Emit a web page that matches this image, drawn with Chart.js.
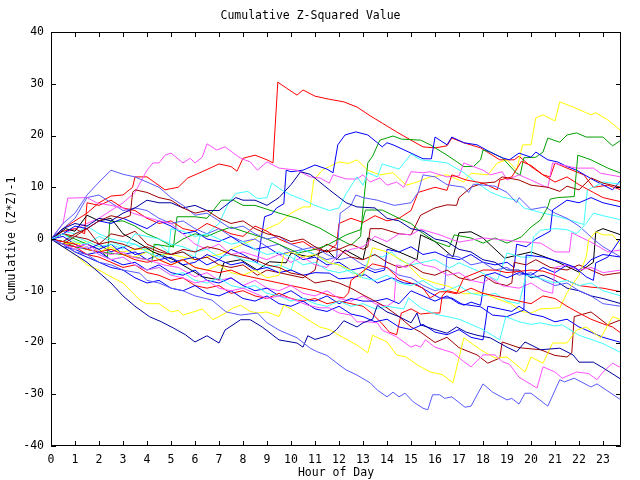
<!DOCTYPE html>
<html>
<head>
<meta charset="utf-8">
<script src="https://cdn.jsdelivr.net/npm/chart.js@4.4.1/dist/chart.umd.min.js"></script>
<style>
  body { margin: 0; background: #fff; }
  canvas { display: block; }
</style>
</head>
<body>
<canvas id="mycanvas" width="640" height="480"></canvas>
<script>
// tick values for the frame marks
var hourTicks = [0,1,2,3,4,5,6,7,8,9,10,11,12,13,14,15,16,17,18,19,20,21,22,23];
var valueTicks = [-40,-30,-20,-10,0,10,20,30,40];

// each series: [hour of day, cumulative (z*z)-1]
var red1 = [[0,0],[0.5,2],[1,3.5],[1.5,5],[2,7],[2.5,8.3],[3,8.5],[3.4,10],[3.5,12],[4,12],[4.75,9.5],[5.3,10],[5.7,11.8],[6.3,13],[7,14.5],[7.5,14],[7.75,13.1],[8,15.6],[8.5,16.2],[9,15.3],[9.25,14.7],[9.45,30.3],[9.8,29.2],[10.25,27.8],[10.5,28.8],[11,27.6],[11.6,27],[12.2,26.5],[12.75,25.5],[13.3,23.8],[13.8,22.4],[14.4,20.7],[15,19.1],[15.5,17.8],[16,17.6],[16.5,18],[16.7,19.5],[17.2,18.6],[17.9,17.6],[18.7,15.3],[19.3,15.3],[19.5,16],[20,14],[20.5,12.4],[20.8,12],[21,14.7],[21.5,13.7],[22.2,12.4],[22.6,10],[23.2,10.4],[23.75,9.5]];
var red2 = [[0,0],[0.5,1.5],[1,2],[1.4,1],[1.5,7],[2,6.5],[2.5,7.5],[3,6],[3.5,5.5],[4,4],[4.5,3],[5,3.5],[5.5,2],[6,1.5],[6.5,3],[7,2],[7.5,1],[8,0.5],[8.5,2.5],[9,1.5],[9.5,0],[10,-1],[10.5,-0.5],[11,-2],[11.5,-2.5],[11.9,-1],[12,3],[12.5,4],[13,3.2],[13.5,4.5],[14,3.5],[14.5,4],[15,5.5],[15.3,9],[16,10],[16.5,9.4],[16.7,12.4],[17.3,11.4],[18,10.8],[18.6,9.5],[18.7,11.4],[19.2,12],[19.6,15],[20,14.2],[20.5,12.4],[21,11],[21.5,12],[22,10.5],[22.6,9],[23,8],[23.75,7.2]];
var red3 = [[0,0],[0.5,-0.5],[1,-1],[1.5,-2],[2,-2.5],[2.5,-2],[3,-3],[3.5,-4],[4,-4.5],[4.5,-4],[5,-5],[5.5,-4],[6,-5.5],[6.5,-6],[7,-6.5],[7.5,-6],[8,-7],[8.5,-7.5],[9,-8],[9.5,-8.5],[10,-9],[10.5,-9.5],[11,-10],[11.7,-11],[12.2,-11.4],[12.4,-10.4],[12.5,-8],[12.9,-6.6],[13.4,-4.8],[14,-5.5],[14.5,-7.7],[15,-8.5],[15.5,-9.5],[15.8,-11.4],[16.2,-10.2],[16.5,-10.2],[16.9,-10.6],[17.2,-7.5],[18,-6],[18.5,-6],[19,-6.5],[20,-6],[20.5,-6.2],[21,-7],[21.5,-8],[22,-9],[22.5,-9.3],[23,-9.5],[23.75,-10.2]];
var red4 = [[0,0],[0.5,-1],[1,-1.5],[1.5,-3],[2,-3.5],[2.5,-4.5],[3,-5.5],[3.5,-5],[4,-6.5],[4.5,-7],[5,-8],[5.5,-7.5],[6,-9],[6.5,-9.5],[7,-9],[7.5,-10.5],[8,-10],[8.5,-11],[9,-11.5],[9.5,-10.5],[10,-11.5],[10.5,-12],[11,-11.5],[11.5,-12.5],[12,-12],[12.5,-12.5],[13,-13],[13.4,-14.5],[13.8,-16.4],[14.1,-18],[14.4,-18.5],[14.6,-14.3],[15,-13.5],[15.4,-14.5],[15.8,-14.3],[16.2,-14.3],[16.3,-11],[16.5,-10],[17,-10.5],[17.5,-9.5],[18,-10.5],[19,-11.5],[20,-12.5],[20.5,-11],[21,-11.5],[21.5,-13],[22,-14.3],[22.5,-15.5],[23,-16.4],[23.4,-17],[23.75,-18.2]];
var darkred1 = [[0,0],[0.5,1],[1,0.5],[1.5,2],[2,-1],[2.5,1],[3,0.5],[3.5,1.5],[4,-1],[4.5,-2],[5,-3],[5.5,-2.5],[6,-4],[6.5,-3.5],[7,-5],[7.5,-5.5],[8,-5],[8.6,-7],[9,-6],[9.5,-6.5],[10,-7],[10.5,-7.5],[11,-6],[11.2,-2],[11.5,-1],[12,-2],[12.5,-1],[13,-2],[13.2,-1.5],[13.3,2],[13.8,2],[14.5,1],[15,0.8],[15.4,4.6],[16,6],[16.5,6.6],[16.9,6.5],[17,8],[17.5,10],[18,10.8],[18.5,11],[18.8,12],[19.5,11.4],[20,10.4],[20.7,10],[21.2,9.2],[21.5,10.2],[22,9.5],[22.5,11.8],[23,10.8],[23.75,10]];
var darkred2 = [[0,0],[0.5,-1],[1,0.5],[1.5,0],[2,-1],[2.5,-0.5],[3,-1],[3.5,-2],[4,-1.5],[4.5,-2.5],[5,-3],[5.5,-2],[6,-2.5],[6.5,-1.5],[7,-2],[7.5,-3],[8,-3.5],[8.5,-4],[9,-5],[9.5,-5.5],[10,-6.6],[10.5,-7],[11,-8.5],[11.6,-8],[12,-8.5],[12.5,-9.5],[13,-10.8],[13.5,-12],[14,-13.3],[14.5,-15],[15,-17],[15.4,-18],[16,-20],[16.5,-19],[17,-21],[17.75,-22.4],[18.2,-24],[18.7,-23],[18.8,-19.9],[19.5,-21],[20.4,-21.4],[21,-22.5],[21.5,-22.8],[21.7,-22],[21.8,-15],[22.5,-14.1],[23.2,-16.6],[23.75,-15.6]];
var darkred3 = [[0,0],[0.5,-0.5],[1,1],[1.5,2],[2,3.5],[2.5,4.5],[3,4],[3.3,4.5],[3.4,9],[3.5,9.5],[4,9],[4.5,8],[5,7.5],[5.5,6],[6,5],[6.5,5.5],[7,4],[7.5,3],[8,3.5],[8.5,2],[9,1],[9.5,0.5],[10,-0.5],[10.5,0],[11,-1.5],[11.5,-2.5],[12,-2],[12.5,-3.5],[13,-4],[13.5,-3],[14,-4.5],[14.5,-5.5],[15,-5],[15.5,-6.5],[16,-7],[16.5,-6],[17,-7.5],[17.5,-8],[18,-7],[18.5,-8.5],[19,-9],[19.2,-8.5],[19.3,-4.5],[19.8,-5],[20.2,-4],[20.8,-5.5],[21.5,-6],[22,-5],[22.5,-6],[23,-7],[23.75,-6.5]];
var green1 = [[0,0],[0.5,1],[1,0],[1.5,-1],[2,-2],[2.35,-3.5],[2.45,3.3],[3,3.5],[3.5,2.5],[4,1],[4.5,0],[5.1,-1.6],[5.25,4.3],[6,4.3],[6.5,4],[7.1,7.5],[7.6,7.5],[8,6.5],[8.5,6.5],[9.5,5],[10.25,4],[11.2,2.1],[11.8,0.5],[12.5,-1.2],[12.9,0.5],[13,6],[13.2,14.7],[13.4,16],[13.7,19.1],[14.25,19.9],[14.6,19.3],[15.4,19.1],[15.8,18.2],[16.5,16.2],[17.2,14],[17.6,14],[17.9,15.3],[18,17.2],[18.3,16.8],[18.8,15.7],[19.4,12.7],[19.55,12.4],[19.7,15.7],[20.2,15.8],[20.5,16.8],[20.7,19.5],[21.2,18.7],[21.5,20.1],[21.9,20.5],[22.3,19.7],[23,19.7],[23.4,18],[23.75,19.1]];
var green2 = [[0,0],[0.5,-0.5],[1,-1.5],[1.5,-2],[2,-2.5],[3,-3],[3.5,-3.5],[4,-4],[4.2,-4.5],[4.3,-1],[5,-1.5],[5.5,0],[6,1],[6.5,0.5],[7,1.5],[7.5,2.3],[8,1.5],[9,0],[10.3,-2.7],[11,-2],[11.5,-1.2],[12.3,0.8],[12.9,1.8],[13.1,5.6],[13.8,5.6],[14.5,4],[15,3],[15.4,1.4],[16,-0.5],[16.6,-1.5],[16.8,0.8],[17.5,0.2],[18,-0.8],[18.5,0.2],[19,-0.8],[19.6,0.4],[20,2.3],[20.4,3.7],[20.7,6.2],[20.8,7.7],[21.1,8],[21.8,8.2],[21.95,16.2],[22.5,15.3],[23.2,13.7],[23.75,12.7]];
var blue1 = [[0,0],[0.5,-1],[1,-1.5],[1.5,-1],[2,-2],[2.5,-1],[3,-3],[3.5,-2.5],[4,-4],[4.5,-3],[5,-4.5],[5.5,-4],[6,-3.5],[6.5,-5],[7,-4],[7.5,-2],[8,-3],[8.6,-4.6],[8.9,4.3],[9.2,4.8],[9.4,6],[9.7,6.8],[9.8,13.3],[10,13],[10.5,13.3],[11,14.3],[11.5,13.5],[11.75,12.8],[11.95,18.2],[12.25,20.1],[12.7,20.7],[13.2,20.1],[13.6,18.6],[13.8,17.8],[14,18.6],[14.25,18.2],[15,16.6],[15.5,15.5],[15.85,15.5],[16,19.7],[16.5,18.2],[16.7,19.7],[17.2,18.6],[17.75,18.2],[18.3,16.8],[18.8,15.7],[19.1,15.3],[19.5,16.6],[20,15.8],[20.2,16.8],[20.7,15.3],[21.1,14.9],[21.5,14],[21.9,13.3],[22.6,11.4],[23.4,9.5],[23.75,11.4]];
var blue2 = [[0,0],[0.5,1],[1,2.5],[1.5,2],[2,3.5],[2.5,3],[3,4],[3.5,3],[4,2],[4.5,3.5],[5,2.5],[5.5,1],[6,1.5],[6.5,0],[7,-0.5],[7.5,0.5],[8,-1],[8.5,-2],[9,-1.5],[9.5,-3],[10,-2.5],[10.5,-4],[11,-3.5],[11.5,-5],[12,-4.5],[12.5,-6],[13,-5.5],[13.5,-6.5],[13.9,-6],[14,-2],[14.5,-2.5],[15,-1.5],[15.5,-3],[16,-2.5],[16.5,-3.5],[17,-4],[17.5,-3],[18,-4.5],[18.5,-5],[19,-4.5],[19.3,-5.5],[19.4,-1],[19.8,-1.5],[20.2,0],[20.8,1.5],[20.9,5.6],[21.5,7.5],[22,7],[22.5,8],[23,7],[23.75,6.2]];
var blue3 = [[0,0],[0.5,-1.5],[1,-2],[1.5,-3],[2,-2.5],[2.5,-4],[3,-5],[3.5,-4.5],[4,-6],[4.5,-5],[5,-6.5],[5.5,-7],[6,-6],[6.5,-8],[7,-8.5],[7.5,-7.5],[8,-9],[8.5,-10],[9,-9.5],[9.5,-11],[10,-10],[10.5,-11.5],[11,-12],[11.5,-11],[12,-12.5],[12.5,-11.5],[13,-12],[13.5,-12],[14,-11.5],[14.5,-12.5],[15,-10],[15.5,-11],[16,-12],[16.5,-11],[17,-12.5],[17.9,-13.1],[18.4,-14.7],[19,-15],[19.7,-13.7],[19.8,-3.1],[20.5,-3.5],[21.2,-4.4],[21.8,-5.4],[22.3,-7.3],[22.6,-8],[22.7,-4.6],[23.2,-3.5],[23.75,0.2]];
var blue4 = [[0,0],[0.5,0.5],[1,-1],[1.5,-2],[2,-1],[2.5,-2.5],[3,-1.5],[3.5,-3],[4,-2.5],[4.5,-4],[5,-3.5],[5.5,-5],[6,-4.5],[6.5,-3],[7,-4],[7.5,-5],[8,-4.5],[8.5,-6],[9,-5.5],[9.5,-6.5],[10,-6],[10.5,-7],[11,-6.5],[11.6,-6.6],[12,-7.7],[12.5,-7.5],[13.1,-6.9],[13.6,-8.5],[14.2,-7.5],[14.7,-8.5],[15.2,-8.7],[15.8,-10.4],[16.2,-11.4],[16.7,-11.4],[17.2,-12.8],[17.5,-12.2],[17.9,-12.8],[18.1,-7],[18.5,-6.5],[19,-7.5],[19.5,-6.5],[20,-7],[20.5,-5.5],[21,-6.5],[21.5,-5],[22,-6],[22.3,-5],[22.5,-4],[23,-3],[23.75,-3.5]];
var blue5 = [[0,0],[0.5,-1],[1,-2.5],[1.5,-3.5],[2,-4.5],[2.5,-5.5],[3,-6],[3.5,-7.5],[4,-8.5],[4.5,-8],[5,-9.5],[5.5,-10],[6,-9],[6.5,-10.5],[7,-11],[7.5,-10],[8,-11.5],[8.5,-12],[9,-11],[9.5,-12.5],[10,-13],[10.5,-12],[11,-13.5],[11.5,-14],[12,-13],[12.5,-14.5],[13,-15],[13.5,-16],[14,-15.5],[14.5,-17],[15,-17.5],[15.5,-16.5],[16,-18],[16.5,-18.5],[17,-17.5],[17.5,-19],[18,-19.5],[18.2,-13],[18.7,-13.5],[19.2,-14],[19.5,-13],[20,-14.5],[20.5,-15],[21,-16],[21.5,-15.5],[22,-17],[22.5,-18],[23,-19],[23.75,-20]];
var navy1 = [[0,0],[0.5,-1.5],[1,-3],[1.5,-4.5],[2,-6.5],[2.5,-8.5],[3,-11],[3.5,-13],[4.1,-15],[4.6,-16],[5.1,-17.2],[5.6,-18.5],[6,-19.9],[6.5,-18.7],[7,-20.1],[7.25,-17.6],[7.9,-15.6],[8.3,-15.6],[8.8,-17],[9.5,-19.5],[10.25,-20.1],[10.5,-20.9],[10.7,-18.7],[11,-19.4],[11.6,-18.6],[11.9,-17.5],[12.2,-15.8],[12.75,-17],[13,-16.2],[13.4,-15.5],[13.6,-12.8],[14,-14.1],[14.5,-15],[15,-16.2],[15.25,-14.3],[15.4,-16.6],[16,-17.5],[16.5,-18.2],[16.9,-17],[17.3,-18],[17.75,-18.6],[18.3,-19.1],[19,-20.9],[19.4,-21.8],[19.75,-19.9],[20.4,-21.4],[21.2,-21.1],[21.75,-22.4],[22,-23.8],[22.6,-23.8],[23,-24.9],[23.75,-27.1]];
var navy2 = [[0,0],[0.5,2],[1,3],[1.5,2.5],[2,4],[2.5,3.5],[3,5],[3.5,6],[4,7.5],[4.5,7],[5,7],[5.5,6],[6,6.5],[6.5,5.5],[7,5.5],[7.7,8],[8,7.5],[8.5,7.5],[9,6.5],[9.5,8],[10,10.5],[10.4,13],[10.8,12.5],[11.6,9.5],[12.3,7],[12.75,6.2],[13.5,6],[14,4],[14.5,3.5],[15,2],[15.5,1.5],[16,0],[16.5,-0.5],[17,-2],[17.5,-2.5],[18,-4],[18.5,-4.5],[19,-6],[19.5,-6],[20,-7.5],[20.5,-7],[21,-8],[21.5,-9.5],[22,-10],[22.5,-11],[23,-11.5],[23.75,-12.5]];
var slate1 = [[0,0],[0.5,3],[1,5],[1.5,8.5],[2,11],[2.5,13.3],[3,12.5],[3.5,12],[4,11],[4.5,10],[5,8],[5.5,6.5],[6,4.6],[6.5,5],[7,3.5],[7.5,2],[8,2.5],[8.5,1],[9,0],[9.5,0.5],[10,-1],[10.5,-2],[11,-1.5],[11.5,-3],[12,-4],[12.5,-3.5],[13,-5],[13.5,-6],[14,-5.5],[14.5,-7],[15,-7.5],[15.5,-9],[16,-10],[16.4,-9.5],[16.5,-3],[17,-3.5],[17.5,-5],[18,-4.5],[18.5,-6],[19,-5.5],[19.5,-7],[20,-6.5],[20.5,-8],[21,-9],[21.5,-8.5],[22,-10],[22.5,-11],[23,-12.5],[23.75,-13]];
var slate2 = [[0,0],[0.5,-1],[1,-2.5],[1.5,-3],[2,-4.5],[2.5,-5],[3,-6],[3.7,-6.6],[4,-8],[4.5,-8.5],[5,-9.5],[5.5,-10],[6,-11],[6.7,-11.8],[7.3,-14.1],[7.9,-14.7],[8.6,-14.3],[9,-16.2],[9.5,-17.6],[10.25,-19.1],[10.8,-21.1],[11.1,-21.8],[11.5,-22.5],[12,-24.3],[12.3,-25.3],[12.75,-26.3],[13.3,-27.8],[13.6,-29.2],[14,-30.5],[14.25,-29.6],[14.5,-30.5],[14.75,-29.8],[15.1,-31.5],[15.5,-32.7],[15.7,-33],[15.9,-30.1],[16.2,-30.1],[16.4,-30.8],[16.7,-30.5],[17.25,-32.5],[17.5,-32.3],[18,-28],[18.4,-29.6],[19,-31.1],[19.2,-30.8],[19.5,-31.9],[19.75,-29.8],[20,-29.8],[20.7,-32.3],[21.2,-27.2],[21.4,-27.6],[21.8,-26.9],[22.5,-28.6],[22.75,-28],[23.75,-31.1]];
var slate3 = [[0,0],[0.5,2],[1,4],[1.5,8],[2,8.5],[2.5,7],[3,5.5],[3.5,6],[4,5.5],[4.5,4],[5,3],[5.5,3.5],[6,2],[6.5,1],[7,2],[7.5,0.5],[8,-0.5],[8.5,0],[9,-1.5],[9.5,-1],[10,-2.5],[10.5,-2],[11,-3],[11.5,-4],[11.9,-3.5],[12.05,5],[12.5,6.5],[12.7,8.5],[13,8],[13.6,7.5],[14.3,6.5],[15,7],[15.3,9],[15.5,12.4],[16,12],[16.5,10.5],[17.2,10],[17.4,9],[17.6,10.6],[18.5,10.2],[19,9],[19.4,7],[19.5,8],[20,5.7],[20.6,6.2],[21,5],[21.5,4],[22,2.5],[22.6,0],[23,-1.5],[23.75,-3.5]];
var cyan1 = [[0,0],[0.5,1.5],[1,1],[1.5,2.5],[2,1],[2.5,0],[3,-0.5],[3.5,-1],[4,-2],[4.5,-1],[5,-3],[5.5,-2.5],[6,-3.5],[6.2,0.5],[6.5,1],[7,3],[7.4,7],[7.7,8.8],[8.2,9.2],[8.6,7.8],[9,8],[9.2,10.8],[9.6,9.5],[10,8.5],[10.5,7.6],[11,6.5],[11.6,5.5],[12,6],[12.3,8.8],[12.75,12],[13,10.4],[13.2,12.8],[13.6,12],[13.8,14.5],[14.5,13.5],[15,16.4],[15.4,15.3],[16,15],[16.5,14.7],[17.2,12.8],[17.75,10.8],[18.3,9.1],[18.8,8.1],[19.4,7.5],[19.7,6],[20.5,5],[21,4.5],[21.6,3.7],[22.2,2.8],[22.35,9.5],[22.6,10],[23,11],[23.75,10.6]];
var cyan2 = [[0,0],[0.5,-0.5],[1,0.5],[1.5,-0.5],[2,-1.5],[2.5,-1],[3,-2],[3.5,1],[4,0.5],[4.5,0],[5,-1],[5.5,-1.5],[6,-2.5],[6.5,-2],[7,-3.5],[7.5,-3],[8,-4],[8.5,-4.5],[9,-5.5],[9.5,-5],[10,-6],[10.2,-3],[10.5,-2],[11,-3],[11.5,-4.5],[12,-5],[12.5,-6.5],[13,-7],[13.3,-3],[13.8,-3.5],[14.2,-2.5],[14.5,-4],[15,-5],[15.4,-4.6],[16,-4],[16.6,-5.6],[17,-4.6],[17.8,-6.2],[18.6,-8],[19,-2.7],[19.6,-3.5],[20,-3.5],[20.1,0.4],[20.4,1.7],[21,2],[21.5,1.8],[21.9,1],[22.3,3],[22.6,5],[23,4.5],[23.75,3.7]];
var cyan3 = [[0,0],[0.5,-1],[1,-2],[1.5,-1.5],[2,-3],[2.5,-4],[3,-3.5],[3.5,-5],[4,-6],[4.5,-5.5],[5,-7],[5.5,-6.5],[6,-8],[6.5,-8.5],[7,-7.5],[7.5,-9],[8,-9.5],[8.5,-9],[9,-10.5],[9.5,-11],[10,-12],[10.5,-11.5],[11,-12.5],[11.5,-13],[12,-12],[12.5,-13],[13,-12.5],[13.5,-13.5],[14,-13],[14.7,-13.5],[14.9,-11.4],[15.4,-13.3],[16,-14.5],[16.5,-15],[17,-15.5],[17.5,-16.5],[18,-17.5],[18.7,-19.5],[18.95,-15],[19.5,-16],[20,-16.5],[20.4,-16.2],[21,-16.8],[21.3,-16.6],[22,-18.6],[22.5,-19.4],[23,-20.2],[23.75,-22]];
var cyan4 = [[0,0],[0.5,1],[1,-0.5],[1.5,-1],[2,0.5],[2.5,-0.5],[3,-1.5],[3.5,-1],[4,-2.5],[4.5,-3.5],[4.9,-2.5],[5,2],[5.5,1.5],[6,0.5],[6.5,1],[7,0],[7.5,-1],[8,-0.5],[8.5,-2],[9,-3],[9.5,-2.5],[10,-3.5],[10.5,-5],[11,-4.5],[11.5,-6],[12,-6.5],[12.5,-6],[13,-7.5],[13.5,-8],[14,-7],[14.5,-8.5],[15,-9],[15.5,-8],[16,-9.5],[16.5,-10],[17,-9],[17.5,-10.5],[18,-11],[18.5,-10.5],[19,-12],[19.5,-12.5],[19.8,-7],[20.3,-7.5],[21,-8.5],[21.5,-8],[22,-9],[22.5,-8.5],[23,-10],[23.75,-11]];
var black1 = [[0,0],[0.6,2],[1,1.5],[1.5,4.6],[2,3.5],[2.5,4],[3,1],[3.6,-0.6],[4.25,-2.5],[5.1,-4],[5.7,-5.6],[6.3,-7.3],[7,-7.9],[7.2,-4.6],[7.9,-4],[8.6,-6],[9.1,-4.4],[9.8,-4.6],[10,-2.7],[10.8,-3.5],[11.5,-2.1],[11.9,-4],[12.25,-2.1],[13,-4],[13.2,0.2],[14,-1.5],[15.25,-4],[15.4,0.8],[16,-0.5],[16.75,-3.5],[17,1.2],[17.5,1.4],[18,0.2],[18.9,-3.7],[20,-2.5],[20.9,-4],[22,-6.4],[22.6,-4.5],[22.7,1.4],[23,2],[23.75,0.8]];
var yellow1 = [[0,0],[0.5,-0.5],[1,-1],[1.5,-0.5],[2,-1.5],[2.5,-2],[3,-2.5],[3.5,-2],[4,-2],[4.5,-3],[5,-3],[5.5,-3.5],[6,-4],[6.5,-3.5],[7,-3],[7.5,-2],[8,-1],[8.5,0],[9,2],[9.5,3],[10,5],[10.5,6.2],[10.8,6.2],[10.95,11.4],[11.3,13.3],[11.6,14],[12,14.9],[12.4,14.6],[12.75,15.3],[13.2,13.3],[13.7,12.4],[14.25,12.8],[14.8,10.4],[15.25,11],[15.8,12],[16.5,12.4],[17.2,11],[17.5,12.7],[18.2,12.4],[18.6,14.7],[19,15.3],[19.4,13.3],[19.65,18.2],[20,18.2],[20.2,23.4],[20.5,24],[20.75,23.4],[21,22.8],[21.2,26.5],[21.75,25.5],[22.5,24],[22.7,24.4],[23.2,23],[23.75,20.9]];
var yellow2 = [[0,0],[0.5,-1.5],[1,-3],[1.5,-5],[2,-6],[2.5,-7.3],[3,-8.5],[3.7,-11.8],[4,-12.5],[4.5,-12.5],[5,-14.1],[5.3,-13.8],[5.5,-14.7],[6,-14],[6.3,-13.5],[6.75,-15.6],[7.2,-14.5],[7.6,-13.3],[7.9,-12.8],[8.3,-14],[8.6,-14.3],[9,-14.1],[9.5,-15],[9.7,-12.8],[10,-13.5],[10.5,-15],[11.2,-17],[11.6,-17.5],[12.2,-19.1],[12.75,-20.5],[13.2,-22],[13.4,-18.6],[14,-19.9],[14.4,-22.4],[14.8,-22.8],[15.25,-24.3],[15.8,-25.7],[16.3,-26.2],[16.75,-27.8],[17.2,-19.1],[17.9,-21.4],[18.5,-23],[19,-22.8],[19.75,-25.7],[20,-22.8],[20.5,-24],[20.9,-20.1],[21.5,-20.1],[21.9,-17.6],[22.3,-17],[22.9,-19.1],[23.4,-15],[23.75,-15.6]];
var yellow3 = [[0,0],[0.5,-1],[1,-0.5],[1.5,-2],[2,-2.5],[2.5,-1.5],[3,-3],[3.5,-3.5],[4,-2.5],[4.5,-4],[5,-5],[5.5,-4],[6,-5.5],[6.5,-6],[7,-5],[7.5,-6.5],[8,-7],[8.5,-6],[9,-7.5],[9.5,-7],[9.7,-3],[10,-2.5],[10.5,-3.5],[11,-3],[11.6,-4.6],[12,-5],[12.5,-6],[12.9,-7.5],[13.2,-4.8],[13.4,-1.7],[14,-2.5],[14.8,-4.6],[15.4,-7.5],[16,-8.5],[16.6,-9.2],[17.2,-10.6],[18,-10.4],[18.5,-11.4],[19.2,-12.6],[19.6,-14],[20,-14.3],[20.4,-13.5],[21.2,-13.3],[21.5,-10.4],[21.8,-8.3],[22,-7],[22.3,-3.5],[22.4,-0.2],[22.7,1.4],[23,0.8],[23.4,0.8],[23.75,-1.2]];
var magenta1 = [[0,0],[0.5,1],[1,2],[1.5,3],[2,4],[2.5,5.5],[3,7],[3.5,9],[4,13.3],[4.25,14.7],[4.5,14.7],[4.75,16.2],[5,16.6],[5.5,14.7],[5.8,15.6],[6,14.7],[6.3,15.8],[6.5,18.4],[6.9,17.2],[7.25,17.8],[7.9,15.6],[8.3,14.9],[8.6,13.3],[9,14.9],[9.5,13.7],[10.25,13.3],[10.8,12],[11.2,11.8],[11.6,10.8],[11.75,12.4],[12.3,11.6],[12.75,11.6],[13,12.4],[13.3,11],[13.7,11.8],[14,10.4],[14.4,11],[14.7,10],[15,13],[15.5,12.8],[15.8,13],[16.5,12],[17,12.2],[17.2,14.7],[18,13.3],[18.3,12.4],[18.8,13],[19,11.4],[19.5,12.4],[20,11.4],[20.7,9.9],[20.9,14.7],[21.9,13.7],[22.6,13.7],[22.9,12.7],[23.75,12]];
var magenta2 = [[0,0],[0.5,3],[0.7,7.9],[1.5,8],[1.9,7],[2.5,6.5],[3,6],[3.4,5],[3.9,4.3],[4.5,3.5],[5,3],[5.5,1],[6,-1],[6.5,-2],[7,-1],[7.5,-3],[8,-2.5],[9,-4],[9.5,-3],[10,-4.5],[10.5,-3.5],[11,-5],[11.5,-5.5],[12,-3],[12.5,-2],[13,-1.5],[13.5,0.5],[14,-0.5],[14.5,1],[15,0.8],[15.4,1.9],[16.2,0.8],[17,-0.6],[17.5,-0.2],[18,0.2],[18.9,-0.2],[19.5,-0.5],[20.4,-0.8],[21,-2.5],[21.6,-2.5],[21.7,1.2],[22.5,-0.6],[23.2,-2.5],[23.75,-2.1]];
var magenta3 = [[0,0],[0.5,-1],[1,-2],[1.5,-1.5],[2,-3],[2.5,-4],[3,-3.5],[3.5,-5],[4,-6],[4.5,-5.5],[5,-7],[5.5,-7.5],[6,-8.5],[6.5,-8],[7,-9.5],[7.5,-10],[8,-9.5],[8.5,-10.5],[9,-11.5],[9.5,-11],[10,-11.5],[10.7,-12.8],[11.2,-13.3],[11.6,-13.3],[12,-14.3],[12.5,-14.7],[12.75,-16],[13.2,-16],[13.6,-16.2],[13.8,-17.6],[14.4,-18.9],[15,-20.9],[15.2,-20.5],[15.4,-20.9],[15.6,-19.5],[16,-20.9],[16.75,-22],[17.2,-23.7],[17.5,-24.7],[18,-22.4],[18.5,-22.4],[18.8,-23.7],[19.1,-24.2],[19.5,-26.7],[20.25,-28.8],[20.5,-24.7],[21,-25.7],[21.3,-26.9],[21.9,-25.7],[22.4,-26],[22.75,-27.2],[23,-25.7],[23.4,-24],[23.75,-24.9]];
var magenta4 = [[0,0],[0.5,-1],[1,-1.5],[1.5,-1],[2,-2.5],[2.5,-3],[3,-2.5],[3.4,-3.5],[4,-4],[4.7,-5],[5.3,-5.5],[6,-7.3],[6.5,-6.5],[7,-8],[7.5,-7.5],[8,-9],[8.5,-8],[9,-9.5],[9.5,-10],[10,-9],[10.5,-10.5],[11,-11],[11.5,-10],[12,-11.5],[12.5,-12],[13,-11],[13.5,-12.5],[14,-13],[14.3,-12],[14.4,-5],[14.8,-5.5],[15.2,-4],[15.5,-5],[16,-5.5],[16.5,-7],[17,-6.5],[17.5,-8],[18,-8.5],[18.3,-7.5],[18.8,-9],[19.5,-9.5],[20,-8.5],[20.5,-10],[20.9,-10.5],[21,-5.5],[21.5,-5],[22,-6],[22.5,-5.5],[23,-6.5],[23.75,-6]];

var monoFont = { family: "'DejaVu Sans Mono', 'Liberation Mono', monospace", size: 11.5, weight: 'normal' };

var seriesList = [
	{ data: slate2, color: '#5a5aff' },
	{ data: navy1, color: '#0000a0' },
	{ data: magenta3, color: '#ff50ff' },
	{ data: yellow2, color: '#ffff00' },
	{ data: cyan3, color: '#40ffff' },
	{ data: blue5, color: '#0000ff' },
	{ data: red4, color: '#ff0000' },
	{ data: darkred2, color: '#a00000' },
	{ data: cyan4, color: '#40ffff' },
	{ data: blue3, color: '#0000ff' },
	{ data: magenta4, color: '#ff50ff' },
	{ data: red3, color: '#ff0000' },
	{ data: yellow3, color: '#ffff00' },
	{ data: blue4, color: '#0000ff' },
	{ data: darkred3, color: '#a00000' },
	{ data: slate1, color: '#5a5aff' },
	{ data: navy2, color: '#0000a0' },
	{ data: cyan2, color: '#40ffff' },
	{ data: magenta2, color: '#ff50ff' },
	{ data: blue2, color: '#0000ff' },
	{ data: green2, color: '#00a000' },
	{ data: slate3, color: '#5a5aff' },
	{ data: black1, color: '#000000' },
	{ data: red2, color: '#ff0000' },
	{ data: darkred1, color: '#a00000' },
	{ data: cyan1, color: '#40ffff' },
	{ data: magenta1, color: '#ff50ff' },
	{ data: blue1, color: '#0000ff' },
	{ data: green1, color: '#00a000' },
	{ data: yellow1, color: '#ffff00' },
	{ data: red1, color: '#ff0000' }
];

var datasets = [];
for (var i in seriesList) {
	datasets.push({
		data: seriesList[i].data.map(function(p){ return { x: p[0], y: p[1] }; }),
		borderColor: seriesList[i].color,
		backgroundColor: seriesList[i].color,
		borderWidth: 1,
		pointRadius: 0,
		fill: false,
		lineTension: 0
	});
}

// white page, black border and inward tick marks like the original plot
var framePlugin = {
	id: 'frame',
	beforeDraw: function(chart) {
		var ctx = chart.ctx;
		ctx.save();
		ctx.fillStyle = '#fff';
		ctx.fillRect(0, 0, chart.width, chart.height);
		ctx.restore();
	},
	afterDatasetsDraw: function(chart) {
		var ctx = chart.ctx;
		var a = chart.chartArea;
		var x = chart.scales.x, y = chart.scales.y;
		ctx.save();
		ctx.strokeStyle = '#000';
		ctx.lineWidth = 1;
		ctx.beginPath();
		ctx.rect(Math.round(a.left) + 0.5, Math.round(a.top) + 0.5, Math.round(a.right - a.left) - 1, Math.round(a.bottom - a.top) - 1);
		hourTicks.forEach(function(h) {
			var px = Math.round(x.getPixelForValue(h)) + 0.5;
			ctx.moveTo(px, a.bottom); ctx.lineTo(px, a.bottom - 5);
			ctx.moveTo(px, a.top); ctx.lineTo(px, a.top + 5);
		});
		valueTicks.forEach(function(v) {
			var py = Math.round(y.getPixelForValue(v)) + 0.5;
			ctx.moveTo(a.left, py); ctx.lineTo(a.left + 5, py);
			ctx.moveTo(a.right, py); ctx.lineTo(a.right - 5, py);
		});
		ctx.stroke();
		ctx.restore();
	}
};

var ctx = document.getElementById('mycanvas');
var LineGraph = new Chart(ctx, {
	type: 'line',
	data: { datasets: datasets },
	plugins: [framePlugin],
	options: {
		responsive: false,
		animation: false,
		layout: { padding: { left: 0, right: 19, top: 0, bottom: 0 } },
		plugins: {
			legend: { display: false },
			tooltip: { enabled: false },
			title: {
				display: true,
				text: 'Cumulative Z-Squared Value',
				color: '#000',
				font: monoFont,
				padding: { top: 9, bottom: 9.2 }
			}
		},
		scales: {
			x: {
				type: 'linear',
				min: 0,
				max: 23.75,
				afterFit: function(s) { s.height = 34; },
				grid: { display: false, drawTicks: false },
				border: { display: false },
				ticks: { stepSize: 1, includeBounds: false, autoSkip: false, maxRotation: 0, color: '#000', font: monoFont, padding: 7 },
				title: { display: true, text: 'Hour of Day', color: '#000', font: monoFont, padding: { top: 0, bottom: 0 } }
			},
			y: {
				min: -40,
				max: 40,
				afterFit: function(s) { s.width = 51; },
				grid: { display: false, drawTicks: false },
				border: { display: false },
				ticks: { stepSize: 10, color: '#000', font: monoFont, padding: 7 },
				title: { display: true, text: 'Cumulative (Z*Z)-1', color: '#000', font: monoFont, padding: { top: 5, bottom: 0 } }
			}
		}
	}
});
</script>
</body>
</html>
